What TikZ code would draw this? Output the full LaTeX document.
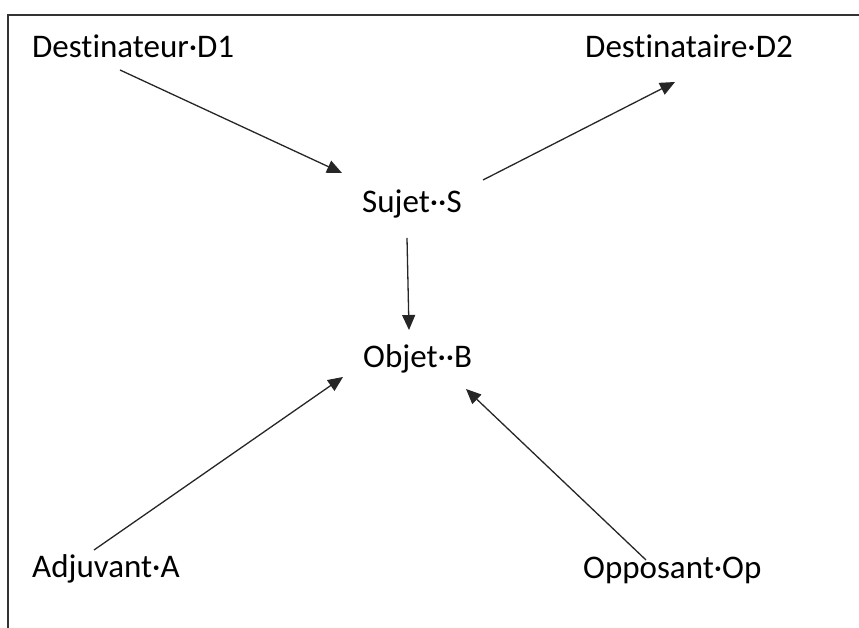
\documentclass[tikz,border=0pt]{standalone}
\usepackage{fontspec}
\setmainfont[Ligatures={NoCommon}]{Carlito}
\usetikzlibrary{arrows.meta,calc}
\begin{document}
\begin{tikzpicture}[
				x=1pt, y=1pt,
				actant/.style={anchor=base west, inner sep=0pt, font=\fontsize{33}{39}\selectfont},
				link/.style={draw=black!85, line width=1.3pt, -{Triangle[length=15pt,width=13pt]}},
				frameline/.style={draw=black!80, line width=1.5pt}
				]
			\useasboundingbox (0,0) rectangle (859,628);
			\draw [frameline] (8,0) -- (8,613) -- (859,613);
			\node [actant] (dest1) at (32,570) {Destinateur·D1};
			\node [actant] (dest2) at (585,570) {Destinataire·D2};
			\node [actant] (sujet) at (362,415) {Sujet··S};
			\node [actant] (objet) at (363,260) {Objet··B};
			\node [actant] (adjuv) at (32,50) {Adjuvant·A};
			\node [actant] (oppos) at (583,49) {Opposant·Op};
			\draw [link] ($(dest1.base west)+(88,-12)$) -- ($(sujet.base west)+(-20,40)$);
			\draw [link] ($(sujet.base west)+(121,33)$) -- ($(dest2.base west)+(90,-24)$);
			\draw [link] ($(sujet.base west)+(45,-25)$) -- ($(objet.base west)+(46,38)$);
			\draw [link] ($(adjuv.base west)+(62,28)$) -- ($(objet.base west)+(-20,-9)$);
			\draw [link] ($(oppos.base west)+(63,19)$) -- ($(objet.base west)+(103,-21)$);
\end{tikzpicture}
\end{document}
